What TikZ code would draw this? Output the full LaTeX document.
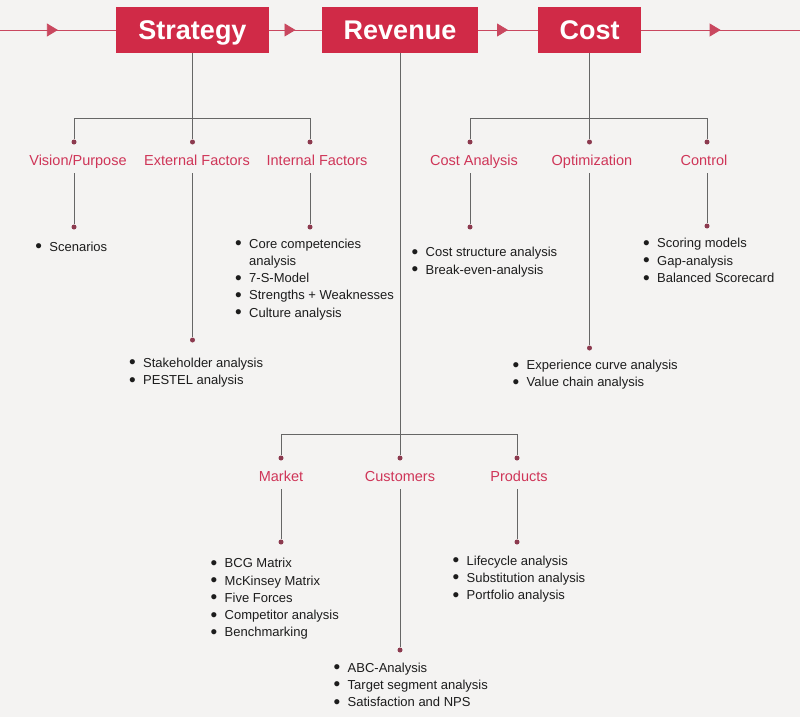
\documentclass[tikz,border=0pt]{standalone}
\usepackage{fontspec}
\setmainfont{Liberation Sans}
\usetikzlibrary{arrows.meta,decorations.markings}
\definecolor{bg}{HTML}{F4F3F2}
\definecolor{boxred}{HTML}{D02A47}
\definecolor{labred}{HTML}{CF3558}
\definecolor{linegray}{HTML}{666666}
\definecolor{dotred}{HTML}{8C3A4F}
\definecolor{flowred}{HTML}{C9475F}
\definecolor{itemtext}{HTML}{1C1C1C}
\newcommand\bu{\makebox[13pt][l]{\hspace*{-1pt}\raisebox{-1.6pt}[0pt][0pt]{\fontsize{19}{19}\selectfont•}}}
\newcommand\bi{\hspace*{13pt}}
\begin{document}
\begin{tikzpicture}[x=1pt,y=-1pt,
 topbox/.style={fill=boxred, text=white, font=\fontsize{27}{30}\selectfont\bfseries, minimum height=46pt, inner sep=0, text height=19.4pt, text depth=0pt},
 cat/.style={text=labred, font=\fontsize{14.5}{16}\selectfont, inner sep=0, text height=10.4pt, text depth=0pt},
 pt/.style={circle, fill=dotred, inner sep=0, minimum size=5pt},
 conn/.style={draw=linegray, line width=0.9pt},
 down/.style={conn, shorten <=8pt},
 flow/.style={draw=flowred, line width=0.8pt, postaction={decorate},
   decoration={markings, mark=at position 0.5 with {\arrow[flowred]{Triangle[length=11pt,width=13pt]}}}},
 items/.style={anchor=north west, inner sep=0, align=left, text=itemtext,
   font=\fontsize{13}{17.3}\selectfont}
]
\fill[bg] (0,0) rectangle (800,717);
\useasboundingbox (0,0) rectangle (800,717);

% top flow
\node[topbox, minimum width=153pt] (strat) at (192.5,30) {Strategy};
\node[topbox, minimum width=156pt] (rev) at (400,30) {Revenue};
\node[topbox, minimum width=103pt] (cost) at (589.5,30) {Cost};
\coordinate (fl) at (0,30);
\coordinate (fr) at (800,30);
\draw[flow] (fl) -- (strat.west);
\draw[flow] (strat.east) -- (rev.west);
\draw[flow] (rev.east) -- (cost.west);
\draw[flow] (cost.east) -- (fr);

% ---------- Strategy branch
\coordinate (sj) at (192.5,118);
\node[pt] (vd1) at (74,142) {};
\node[pt] (ed1) at (192.5,142) {};
\node[pt] (id1) at (310,142) {};
\draw[conn] (strat.south) -- (ed1);
\draw[conn] (vd1) -- (vd1 |- sj) -- (id1 |- sj) -- (id1);
\node[cat] (vis) at (78,160) {Vision/Purpose};
\node[cat] (ext) at (197,160) {External Factors};
\node[cat] (int) at (317,160) {Internal Factors};
\node[pt] (vd2) at (74,227) {};
\node[pt] (ed2) at (192.5,340) {};
\node[pt] (id2) at (310,227) {};
\draw[down] (vd2 |- vis.south) -- (vd2);
\draw[down] (ed2 |- ext.south) -- (ed2);
\draw[down] (id2 |- int.south) -- (id2);
\node[items] (scen) at (36.2,241.4) {\bu Scenarios};
\node[items] (intl) at (236,238.4) {\bu Core competencies\\\bi analysis\\\bu 7-S-Model\\\bu Strengths + Weaknesses\\\bu Culture analysis};
\node[items] (extl) at (130,357.6) {\bu Stakeholder analysis\\\bu PESTEL analysis};

% ---------- Cost branch
\coordinate (cj) at (589.5,118);
\node[pt] (cd1) at (470,142) {};
\node[pt] (od1) at (589.5,142) {};
\node[pt] (kd1) at (707,142) {};
\draw[conn] (cost.south) -- (od1);
\draw[conn] (cd1) -- (cd1 |- cj) -- (kd1 |- cj) -- (kd1);
\node[cat] (cana) at (474,160) {Cost Analysis};
\node[cat] (opt) at (592,160) {Optimization};
\node[cat] (ctrl) at (704,160) {Control};
\node[pt] (cd2) at (470,227) {};
\node[pt] (od2) at (589.5,348) {};
\node[pt] (kd2) at (707,226) {};
\draw[down] (cd2 |- cana.south) -- (cd2);
\draw[down] (od2 |- opt.south) -- (od2);
\draw[down] (kd2 |- ctrl.south) -- (kd2);
\node[items] (cal) at (412.5,247.2) {\bu Cost structure analysis\\\bu Break-even-analysis};
\node[items] (ctl) at (644,238.2) {\bu Scoring models\\\bu Gap-analysis\\\bu Balanced Scorecard};
\node[items] (optl) at (513.5,359.8) {\bu Experience curve analysis\\\bu Value chain analysis};

% ---------- Revenue branch
\coordinate (rj) at (400,434);
\node[pt] (md1) at (281,458) {};
\node[pt] (ud1) at (400,458) {};
\node[pt] (pd1) at (517,458) {};
\draw[conn] (rev.south) -- (ud1);
\draw[conn] (md1) -- (md1 |- rj) -- (pd1 |- rj) -- (pd1);
\node[cat] (mkt) at (281,476) {Market};
\node[cat] (cus) at (400,476) {Customers};
\node[cat] (prd) at (519,476) {Products};
\node[pt] (md2) at (281,542) {};
\node[pt] (ud2) at (400,650) {};
\node[pt] (pd2) at (517,542) {};
\draw[down] (md2 |- mkt.south) -- (md2);
\draw[down] (ud2 |- cus.south) -- (ud2);
\draw[down] (pd2 |- prd.south) -- (pd2);
\node[items] (mkl) at (211.5,558.1) {\bu BCG Matrix\\\bu McKinsey Matrix\\\bu Five Forces\\\bu Competitor analysis\\\bu Benchmarking};
\node[items] (prl) at (453.5,555.4) {\bu Lifecycle analysis\\\bu Substitution analysis\\\bu Portfolio analysis};
\node[items] (cul) at (334.5,662.4) {\bu ABC-Analysis\\\bu Target segment analysis\\\bu Satisfaction and NPS};
\end{tikzpicture}
\end{document}
